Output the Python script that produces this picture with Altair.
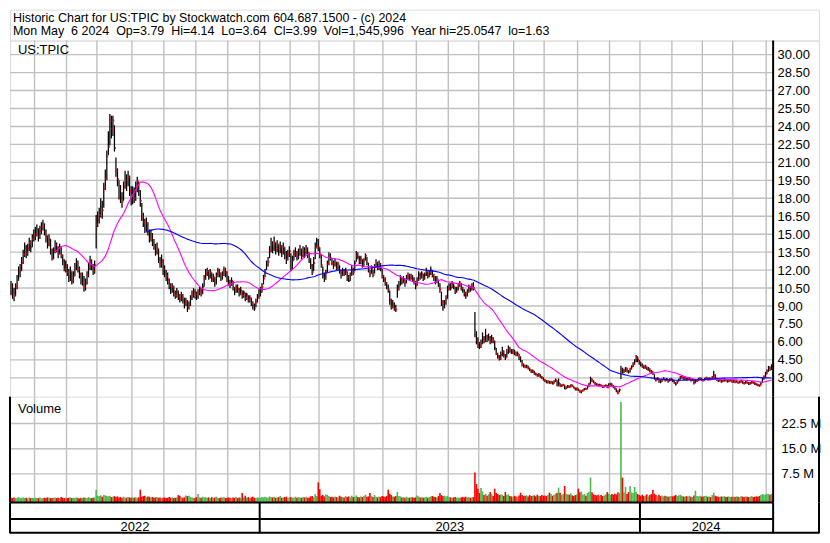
import altair as alt
import numpy as np
import pandas as pd

# ---------------------------------------------------------------- data
FIRST_DAY = "2022-05-09"
LAST_DAY = "2024-05-06"
market_holidays = [
    "2022-05-30", "2022-06-20", "2022-07-04", "2022-09-05", "2022-11-24", "2022-12-26",
    "2023-01-02", "2023-01-16", "2023-02-20", "2023-04-07", "2023-05-29", "2023-06-19",
    "2023-07-04", "2023-09-04", "2023-11-23", "2023-12-25",
    "2024-01-01", "2024-01-15", "2024-02-19", "2024-03-29",
]

close = [
    10.6, 10.2, 9.9, 10.5, 11.2, 11.8, 12.0, 12.6, 13.3, 13.9, 13.4, 13.8, 14.3, 13.9, 14.6, 14.9,
    15.0, 15.4, 14.8, 15.3, 15.6, 15.9, 15.2, 14.8, 14.2, 14.6, 13.5, 13.0, 13.6, 14.1, 13.8, 13.4, 13.9, 13.2, 12.8, 12.1, 12.4,
    11.8, 11.4, 11.9, 11.1, 11.5, 12.2, 12.6, 12.1, 11.6, 11.0, 11.4, 10.6, 10.9, 11.6, 12.2, 12.7, 12.3, 11.9, 12.4, 15.8,
    16.2, 16.6, 17.3, 17.0, 18.8, 19.6, 21.5, 22.3, 24.5, 23.8, 24.5, 22.2, 20.3, 19.6, 18.6, 18.3, 17.7, 18.9, 19.5, 19.3, 19.8, 18.6, 18.2,
    18.6, 18.0, 18.9, 19.4, 18.6, 17.8, 16.4, 16.0, 15.5, 15.9, 15.2, 14.6, 15.0, 14.3, 14.0, 13.5, 13.8, 12.9, 12.5, 12.8, 12.1,
    11.8, 11.5, 11.2, 10.7, 10.4, 10.6, 10.1, 9.9, 10.2, 9.8, 9.6, 9.9, 9.5, 9.2, 9.4, 8.9, 9.1, 9.6, 9.9, 10.2, 10.0,
    9.8, 10.1, 10.3, 10.0, 10.6, 11.3, 11.7, 11.9, 11.5, 11.8, 11.2, 11.4, 10.9, 11.5, 11.9, 11.7, 11.4, 11.6, 12.0, 11.8, 11.3,
    11.0, 10.8, 11.1, 10.5, 10.2, 10.6, 10.4, 10.0, 10.3, 9.9, 10.1, 9.7, 9.9, 9.5, 9.7, 9.2, 9.0, 8.8, 9.3, 9.7, 10.0,
    10.2, 10.6, 11.3, 11.8, 12.4, 12.7, 13.6, 14.2, 13.8, 14.3, 13.7, 14.1, 13.6, 14.0, 13.5, 13.9, 13.4, 12.9, 13.3, 13.6,
    12.2, 12.8, 13.3, 13.5, 13.1, 13.4, 13.7, 13.2, 13.6, 13.3, 13.8, 13.4, 12.9, 12.4, 11.8, 12.6, 13.9, 14.5, 13.9,
    13.3, 12.4, 11.5, 11.3, 11.8, 12.5, 13.2, 13.0, 12.6, 12.4, 12.7, 12.2, 12.5, 11.9, 11.6, 12.0, 11.7, 11.9, 11.4, 11.1, 11.6, 12.1, 11.8,
    12.6, 13.4, 13.1, 12.7, 12.9, 12.4, 12.8, 13.2, 12.6, 12.0, 11.7, 12.1, 11.6, 12.3, 12.6, 12.2, 12.5, 12.1, 11.5,
    11.2, 10.9, 10.6, 10.4, 9.5, 8.9, 9.2, 8.8, 8.7, 10.4, 10.7, 11.3, 11.0, 11.2, 10.9, 11.4, 11.6, 11.3, 11.5, 11.2, 11.0, 10.7,
    11.2, 11.6, 11.4, 11.7, 11.3, 11.6, 11.9, 11.5, 11.8, 12.0, 11.6, 11.4, 11.0, 11.3, 10.8, 10.4, 9.3, 8.9, 9.2, 9.6, 10.4,
    10.7, 10.5, 10.9, 10.6, 10.2, 10.4, 10.7, 10.9, 10.5, 10.3, 10.1, 9.9, 10.2, 10.6, 10.4, 10.7, 10.5, 6.6, 6.2, 5.9,
    5.6, 5.9, 6.3, 6.1, 6.5, 6.2, 6.4, 6.0, 6.3, 6.1, 5.5, 5.0, 4.8, 4.6, 4.9, 5.2, 4.9, 4.7, 5.1, 5.5, 5.3, 5.1, 5.2,
    5.1, 4.9, 5.0, 4.7, 4.4, 4.1, 4.0, 3.9, 3.95, 3.8, 3.65, 3.5, 3.55, 3.35, 3.3, 3.2, 3.25, 3.1, 3.0, 2.85,
    2.75, 2.6, 2.7, 2.55, 2.65, 2.5, 2.7, 2.8, 2.35, 2.55, 2.3, 2.35, 2.4, 2.1, 2.2, 2.3, 2.25, 2.4, 2.3, 2.15, 2.05, 2.1,
    1.95, 1.85, 1.9, 2.0, 2.1, 2.05, 2.3, 2.5, 2.9, 2.75, 2.6, 2.5, 2.45, 2.35, 2.4, 2.3, 2.25, 2.3, 2.35, 2.2, 2.45,
    2.5, 2.35, 2.2, 2.05, 1.9, 1.75, 2.0, 3.7, 3.45, 3.6, 3.8, 3.55, 3.5, 3.75, 3.95, 4.2, 4.4, 4.7, 4.5, 4.3,
    4.1, 4.0, 3.85, 3.95, 3.7, 3.75, 3.6, 3.5, 3.35, 2.95, 2.85, 2.95, 2.75, 2.7, 2.85, 2.95, 2.8, 2.9, 2.75, 2.85, 2.9,
    2.75, 2.6, 2.5, 2.7, 2.85, 3.05, 3.1, 2.95, 3.0, 2.85, 2.9, 2.95, 2.8, 2.85, 2.6, 2.75, 2.8, 2.9, 2.95, 2.85,
    2.8, 2.9, 3.0, 2.85, 2.95, 2.9, 3.05, 3.2, 2.95, 2.85, 2.75, 2.8, 2.7, 2.75, 2.85, 2.8, 2.7, 2.75, 2.8, 2.7,
    2.75, 2.65, 2.7, 2.6, 2.65, 2.75, 2.6, 2.55, 2.65, 2.6, 2.5, 2.55, 2.65, 2.6, 2.5, 2.45, 2.4, 2.35, 2.6, 2.9, 3.1, 3.35,
    3.55, 3.85, 3.75, 3.99,
]

high = [
    11.1, 10.9, 10.5, 10.9, 11.6, 12.3, 12.5, 13.1, 13.7, 14.3, 14.1, 14.2, 14.7, 14.5, 15.0, 15.4,
    15.6, 15.8, 15.5, 15.7, 16.0, 16.2, 15.9, 15.4, 14.9, 15.0, 14.6, 13.8, 13.9, 14.5, 14.3, 14.0, 14.2, 13.9, 13.3, 12.9, 12.8,
    12.5, 12.1, 12.3, 11.9, 11.9, 12.6, 13.0, 12.8, 12.3, 11.8, 11.8, 11.5, 11.3, 11.9, 12.6, 13.2, 12.9, 12.5, 12.8, 16.6,
    16.9, 17.2, 18.0, 17.8, 19.3, 20.4, 22.0, 23.6, 25.05, 24.9, 24.9, 24.1, 21.4, 20.5, 19.5, 19.1, 18.5, 19.4, 20.3, 20.0, 20.3, 19.9, 19.0,
    19.0, 18.9, 19.4, 19.8, 19.4, 18.7, 17.6, 16.8, 16.3, 16.4, 16.0, 15.4, 15.4, 15.1, 14.6, 14.2, 14.3, 13.8, 13.1, 13.3, 12.9,
    12.4, 12.0, 11.8, 11.3, 10.9, 10.9, 10.7, 10.3, 10.5, 10.3, 10.0, 10.2, 10.0, 9.7, 9.7, 9.5, 9.4, 9.9, 10.3, 10.5, 10.4,
    10.2, 10.4, 10.6, 10.5, 10.9, 11.6, 12.1, 12.2, 12.0, 12.1, 11.8, 11.7, 11.4, 11.8, 12.2, 12.1, 11.8, 11.9, 12.3, 12.2, 11.9,
    11.5, 11.2, 11.4, 11.1, 10.6, 10.8, 10.8, 10.5, 10.6, 10.3, 10.3, 10.1, 10.1, 9.9, 9.9, 9.7, 9.4, 9.2, 9.6, 10.0, 10.4,
    10.6, 10.9, 11.6, 12.1, 12.8, 13.1, 14.0, 14.7, 14.4, 14.8, 14.3, 14.5, 14.2, 14.4, 14.1, 14.3, 13.9, 13.6, 13.7, 14.0,
    13.4, 13.2, 13.7, 13.9, 13.6, 13.8, 14.1, 13.8, 14.0, 13.9, 14.1, 13.9, 13.5, 13.0, 12.5, 13.1, 14.3, 14.7, 14.6,
    13.9, 13.3, 12.3, 11.8, 12.0, 12.8, 13.5, 13.4, 13.0, 12.8, 13.0, 12.7, 12.7, 12.4, 12.0, 12.2, 12.1, 12.2, 11.9, 11.6, 11.8, 12.4, 12.2,
    12.8, 13.6, 13.5, 13.2, 13.2, 12.9, 13.0, 13.4, 13.1, 12.6, 12.0, 12.4, 12.0, 12.5, 12.9, 12.7, 12.8, 12.6, 12.1,
    11.6, 11.4, 11.0, 10.8, 10.3, 9.6, 9.5, 9.3, 9.1, 10.8, 11.1, 11.6, 11.4, 11.5, 11.3, 11.6, 11.8, 11.7, 11.7, 11.6, 11.4, 11.1,
    11.4, 11.9, 11.8, 11.9, 11.7, 11.8, 12.2, 11.9, 12.0, 12.3, 12.0, 11.7, 11.5, 11.5, 11.2, 10.9, 10.2, 9.5, 9.5, 9.9, 10.7,
    10.9, 10.9, 11.1, 10.9, 10.6, 10.6, 10.9, 11.1, 10.9, 10.6, 10.4, 10.2, 10.4, 10.8, 10.7, 10.9, 11.0, 8.5, 6.9, 6.4,
    6.0, 6.2, 6.8, 6.5, 7.1, 6.6, 6.7, 6.5, 6.6, 6.4, 6.1, 5.5, 5.1, 4.9, 5.2, 5.6, 5.3, 5.0, 5.4, 5.7, 5.6, 5.4, 5.4,
    5.35, 5.2, 5.2, 5.0, 4.8, 4.5, 4.2, 4.1, 4.1, 4.0, 3.85, 3.7, 3.7, 3.6, 3.45, 3.35, 3.4, 3.3, 3.15, 3.05,
    2.9, 2.8, 2.8, 2.75, 2.75, 2.7, 2.8, 2.95, 2.8, 2.95, 2.55, 2.45, 2.5, 2.4, 2.3, 2.4, 2.35, 2.45, 2.45, 2.3, 2.2, 2.2,
    2.1, 2.0, 1.95, 2.05, 2.15, 2.15, 2.35, 2.6, 3.1, 2.95, 2.8, 2.65, 2.55, 2.5, 2.5, 2.45, 2.35, 2.4, 2.45, 2.4, 2.55,
    2.6, 2.55, 2.4, 2.25, 2.1, 1.95, 2.1, 4.0, 3.85, 3.75, 3.9, 3.85, 3.65, 3.85, 4.05, 4.3, 4.55, 4.9, 4.8, 4.5,
    4.35, 4.2, 4.05, 4.1, 3.95, 3.9, 3.8, 3.65, 3.55, 3.3, 3.0, 3.05, 2.95, 2.85, 2.95, 3.05, 2.95, 3.0, 2.9, 2.95, 3.0,
    2.9, 2.8, 2.65, 2.75, 2.95, 3.15, 3.2, 3.1, 3.1, 3.0, 3.0, 3.05, 2.95, 2.95, 2.85, 2.85, 2.9, 3.0, 3.05, 3.0,
    2.9, 3.0, 3.1, 3.0, 3.05, 3.0, 3.15, 3.6, 3.3, 3.0, 2.9, 2.9, 2.85, 2.85, 2.95, 2.9, 2.85, 2.85, 2.9, 2.85,
    2.85, 2.8, 2.8, 2.7, 2.75, 2.85, 2.75, 2.65, 2.75, 2.7, 2.65, 2.65, 2.75, 2.7, 2.65, 2.55, 2.5, 2.45, 2.65, 3.0, 3.2, 3.5,
    3.7, 4.0, 3.95, 4.14,
]

low = [
    9.9, 9.6, 9.4, 9.8, 10.4, 11.1, 11.4, 11.9, 12.5, 13.1, 13.0, 13.2, 13.6, 13.5, 13.9, 14.4,
    14.5, 14.8, 14.4, 14.6, 15.0, 15.3, 14.9, 14.3, 13.8, 14.0, 13.3, 12.8, 12.9, 13.4, 13.5, 13.0, 13.3, 13.0, 12.4, 11.9, 11.8,
    11.5, 11.0, 11.1, 10.8, 10.9, 11.5, 12.0, 11.8, 11.3, 10.8, 10.7, 10.2, 10.3, 10.8, 11.4, 12.0, 12.0, 11.6, 11.7, 13.8,
    15.6, 15.9, 16.4, 16.3, 17.2, 18.7, 19.5, 21.6, 22.4, 23.0, 23.2, 21.9, 19.8, 19.0, 17.9, 17.6, 17.2, 17.8, 18.8, 18.6, 19.0, 18.2, 17.4,
    17.5, 17.6, 17.8, 18.5, 18.2, 17.3, 16.1, 15.6, 15.1, 15.2, 14.9, 14.3, 14.4, 14.0, 13.7, 13.2, 13.3, 12.6, 12.2, 12.2, 11.6,
    11.4, 11.1, 10.8, 10.4, 10.0, 10.1, 9.8, 9.6, 9.7, 9.5, 9.3, 9.4, 9.2, 8.8, 9.0, 8.5, 8.7, 9.0, 9.5, 9.7, 9.6,
    9.5, 9.6, 9.9, 9.8, 10.0, 10.6, 11.2, 11.5, 11.2, 11.3, 11.0, 11.0, 10.6, 10.8, 11.4, 11.4, 11.1, 11.2, 11.5, 11.4, 11.0,
    10.7, 10.5, 10.7, 10.3, 9.9, 10.1, 10.1, 9.8, 9.9, 9.6, 9.7, 9.4, 9.5, 9.3, 9.3, 9.0, 8.7, 8.6, 8.9, 9.3, 9.6,
    9.8, 10.1, 10.8, 11.4, 12.0, 12.3, 13.0, 13.5, 13.4, 13.6, 13.3, 13.5, 13.2, 13.4, 13.1, 13.3, 12.9, 12.5, 12.8, 13.1,
    11.9, 12.0, 12.8, 13.1, 12.8, 12.9, 13.2, 12.9, 13.1, 13.0, 13.3, 13.0, 12.6, 12.1, 11.6, 11.9, 12.9, 13.8, 13.6,
    13.0, 12.2, 11.3, 11.0, 11.2, 11.8, 12.4, 12.8, 12.4, 12.1, 12.3, 12.0, 12.0, 11.7, 11.3, 11.5, 11.5, 11.6, 11.1, 11.0, 11.1, 11.5, 11.6,
    11.9, 12.7, 12.9, 12.5, 12.5, 12.2, 12.3, 12.8, 12.4, 11.8, 11.4, 11.7, 11.4, 11.7, 12.2, 12.0, 12.0, 11.9, 11.3,
    11.0, 10.7, 10.4, 10.1, 9.1, 8.7, 8.8, 8.6, 8.5, 9.7, 10.3, 10.7, 10.8, 10.9, 10.6, 10.9, 11.2, 11.1, 11.2, 11.0, 10.8, 10.4,
    10.7, 11.1, 11.2, 11.3, 11.1, 11.2, 11.5, 11.3, 11.4, 11.6, 11.4, 11.1, 10.8, 10.9, 10.6, 10.1, 9.0, 8.6, 8.8, 9.1, 9.6,
    10.3, 10.3, 10.5, 10.4, 10.0, 10.1, 10.3, 10.6, 10.3, 10.1, 9.8, 9.6, 9.8, 10.1, 10.2, 10.3, 10.3, 6.4, 5.8, 5.5,
    5.4, 5.5, 5.8, 5.9, 6.0, 6.0, 6.1, 5.8, 5.9, 5.9, 5.3, 4.9, 4.6, 4.45, 4.5, 4.8, 4.7, 4.5, 4.7, 5.0, 5.1, 5.0, 5.0,
    4.9, 4.8, 4.8, 4.5, 4.3, 3.95, 3.85, 3.8, 3.8, 3.7, 3.55, 3.4, 3.4, 3.25, 3.2, 3.1, 3.1, 3.0, 2.9, 2.75,
    2.65, 2.55, 2.55, 2.5, 2.5, 2.45, 2.5, 2.65, 2.3, 2.3, 2.25, 2.25, 2.3, 2.05, 2.05, 2.15, 2.15, 2.2, 2.25, 2.1, 1.95, 1.95,
    1.9, 1.75, 1.7, 1.85, 1.95, 2.0, 2.05, 2.25, 2.45, 2.65, 2.55, 2.4, 2.35, 2.3, 2.3, 2.25, 2.15, 2.2, 2.25, 2.15, 2.2,
    2.35, 2.3, 2.15, 2.0, 1.8, 1.63, 1.8, 2.9, 3.35, 3.4, 3.5, 3.45, 3.35, 3.45, 3.7, 3.9, 4.1, 4.3, 4.3, 4.1,
    3.95, 3.85, 3.75, 3.75, 3.65, 3.6, 3.45, 3.4, 3.25, 2.85, 2.7, 2.8, 2.6, 2.55, 2.65, 2.8, 2.7, 2.75, 2.6, 2.7, 2.75,
    2.65, 2.5, 2.35, 2.5, 2.7, 2.85, 2.95, 2.85, 2.85, 2.75, 2.8, 2.85, 2.7, 2.75, 2.45, 2.55, 2.65, 2.75, 2.8, 2.75,
    2.7, 2.75, 2.85, 2.8, 2.8, 2.8, 2.85, 3.0, 2.9, 2.75, 2.65, 2.7, 2.6, 2.65, 2.7, 2.7, 2.6, 2.65, 2.7, 2.6,
    2.6, 2.55, 2.6, 2.5, 2.55, 2.6, 2.5, 2.45, 2.5, 2.5, 2.4, 2.45, 2.5, 2.5, 2.4, 2.35, 2.3, 2.25, 2.35, 2.6, 2.85, 3.05,
    3.3, 3.5, 3.6, 3.64,
]

volume_m = [
    0.4, 0.3, 0.5, 0.3, 0.4, 0.6, 0.3, 0.4, 0.5, 0.3, 0.4, 0.2, 0.5, 0.3, 0.4, 0.3,
    0.4, 0.3, 0.3, 0.5, 0.2, 0.3, 0.4, 0.3, 0.5, 0.4, 0.3, 0.3, 0.4, 0.5, 0.3, 0.4, 0.3, 0.6, 0.4, 0.3, 0.4,
    0.3, 0.4, 0.5, 0.3, 0.4, 0.3, 0.5, 0.3, 0.2, 0.4, 0.3, 0.5, 0.4, 0.3, 0.6, 0.4, 0.3, 0.4, 0.5, 2.8,
    1.0, 0.9, 1.1, 0.7, 1.2, 1.1, 0.9, 0.8, 1.0, 0.6, 0.7, 0.9, 0.6, 0.8, 0.5, 0.6, 0.4, 0.7, 0.5, 0.4, 0.6, 0.5, 0.4,
    0.5, 0.4, 0.6, 0.4, 0.5, 2.8, 0.7, 0.9, 1.0, 0.6, 0.8, 0.7, 0.5, 0.6, 0.4, 0.5, 0.6, 0.4, 0.5, 0.3, 0.4,
    0.5, 0.3, 0.4, 0.6, 0.4, 0.5, 0.3, 0.4, 0.5, 1.2, 1.0, 0.6, 0.4, 0.5, 1.1, 0.9, 1.0, 0.6, 0.5, 0.4, 0.3,
    0.6, 1.5, 0.5, 0.4, 0.7, 0.5, 0.6, 0.4, 0.5, 0.3, 0.6, 0.4, 0.5, 0.7, 0.4, 0.3, 0.5, 0.4, 0.6, 0.3, 0.4,
    0.5, 0.4, 0.3, 0.5, 0.4, 0.6, 0.3, 0.5, 0.4, 1.8, 0.5, 1.0, 0.4, 0.6, 0.3, 0.5, 0.7, 0.4, 0.3, 0.5, 0.4,
    0.4, 0.6, 0.5, 0.7, 0.5, 0.4, 0.8, 0.6, 0.5, 0.7, 0.4, 0.5, 0.6, 0.9, 0.4, 0.5, 0.6, 0.7, 0.4, 0.5,
    0.6, 0.4, 0.5, 0.7, 0.4, 0.6, 0.5, 0.4, 0.6, 0.5, 0.7, 0.4, 0.5, 0.8, 0.9, 0.6, 1.5, 0.9, 5.0,
    2.9, 1.0, 1.2, 0.8, 1.4, 1.3, 0.9, 0.6, 0.7, 0.5, 0.8, 0.6, 0.5, 1.0, 0.7, 0.6, 0.5, 0.9, 0.6, 0.8, 0.5, 1.0, 0.6,
    0.7, 1.1, 0.6, 0.5, 0.8, 0.6, 0.9, 1.3, 0.7, 0.8, 1.8, 0.9, 0.6, 1.2, 0.7, 0.5, 0.8, 0.6, 0.9,
    0.8, 0.6, 0.9, 2.8, 1.6, 1.2, 0.8, 0.7, 0.9, 2.1, 0.9, 0.8, 0.5, 0.6, 0.4, 0.7, 0.5, 0.4, 0.6, 0.5, 0.4, 0.5,
    1.1, 0.8, 0.5, 0.6, 0.4, 0.5, 0.7, 0.4, 0.6, 0.8, 0.9, 0.7, 0.6, 0.5, 0.9, 1.8, 1.2, 0.9, 1.0, 0.8, 1.0,
    0.6, 0.5, 0.4, 0.5, 0.6, 0.4, 0.5, 0.4, 0.5, 0.6, 0.5, 0.7, 0.5, 0.6, 0.4, 0.5, 0.6, 7.9, 4.5, 3.1,
    1.8, 3.3, 2.3, 1.2, 1.6, 1.0, 1.4, 2.1, 1.5, 0.9, 3.1, 1.8, 1.5, 1.2, 1.4, 1.3, 0.9, 2.1, 1.2, 1.4, 0.9, 0.8, 0.7,
    1.0, 0.8, 0.7, 1.1, 1.9, 1.2, 0.9, 1.0, 1.1, 0.8, 1.2, 0.9, 1.0, 1.1, 0.8, 1.3, 1.0, 0.9, 1.2, 1.0,
    1.1, 0.9, 1.2, 1.9, 1.5, 1.0, 1.3, 1.6, 1.8, 3.4, 1.9, 1.2, 1.5, 3.9, 1.6, 1.4, 1.3, 1.7, 1.1, 0.9, 1.2, 1.4,
    3.1, 2.0, 2.2, 1.3, 1.5, 1.0, 1.8, 2.2, 6.4, 2.0, 1.4, 1.2, 1.1, 1.3, 1.0, 1.2, 0.9, 1.1, 1.4, 2.1, 1.6,
    1.2, 1.5, 1.3, 1.6, 1.4, 2.0, 1.8, 28.9, 6.4, 2.0, 3.6, 1.5, 2.1, 3.9, 2.0, 1.8, 3.6, 2.2, 1.5, 1.2,
    1.0, 1.3, 0.9, 1.1, 1.4, 0.8, 1.2, 1.5, 2.7, 1.6, 1.2, 1.0, 1.3, 0.9, 1.1, 0.8, 1.0, 0.9, 0.7, 0.8, 0.9,
    0.8, 1.0, 1.2, 0.9, 1.1, 1.3, 1.0, 0.8, 0.7, 0.9, 0.8, 1.0, 0.7, 0.6, 1.1, 2.5, 0.9, 0.8, 1.0, 0.7,
    0.8, 0.9, 1.0, 0.7, 0.8, 0.6, 1.2, 1.9, 1.0, 0.8, 0.7, 0.6, 0.8, 0.7, 0.9, 0.6, 0.7, 0.8, 0.6, 0.7,
    0.7, 0.6, 0.8, 0.7, 0.6, 0.9, 0.7, 0.6, 0.8, 0.7, 0.6, 0.7, 0.9, 0.6, 0.7, 0.8, 0.7, 0.9, 1.2, 1.5, 1.3, 1.4,
    1.6, 1.5, 1.3, 1.55,
]

price_ticks = [3.0, 4.5, 6.0, 7.5, 9.0, 10.5, 12.0, 13.5, 15.0, 16.5, 18.0, 19.5,
               21.0, 22.5, 24.0, 25.5, 27.0, 28.5, 30.0]
volume_ticks = [7.5, 15.0, 22.5]
header_line1 = "Historic Chart for US:TPIC by Stockwatch.com 604.687.1500 - (c) 2024"
header_line2 = ("Mon May  6 2024  Op=3.79  Hi=4.14  Lo=3.64  Cl=3.99  "
                "Vol=1,545,996  Year hi=25.0547  lo=1.63")
symbol_label = "US:TPIC"
volume_label = "Volume"
FAST_MA, SLOW_MA = 30, 90

# ---------------------------------------------------------------- styling / layout
FONT = "Liberation Sans"
FS = 13
HEAD_FS = 12.5
GRID = "#c0c0c0"
UP_COL = "#4cb84c"
DOWN_COL = "#ff0000"
W_ALL = 811
SEP_X = 765
X_RANGE = [1.0, 763.4]
H_HEAD, H_PRICE, H_VOL, H_YEAR = 31, 357, 106, 31

# ---------------------------------------------------------------- frames
days = pd.bdate_range(FIRST_DAY, LAST_DAY)
days = days[~days.isin(pd.to_datetime(market_holidays))]
n = len(days)
assert n == len(close) == len(high) == len(low) == len(volume_m), (
    n, len(close), len(high), len(low), len(volume_m))

df = pd.DataFrame({"i": np.arange(n), "high": high, "low": low,
                   "close": close, "vol": volume_m})
df["tick_a"] = df["i"] + 0.2
df["tick_b"] = df["i"] + 0.9
df["dir"] = np.where(df["close"].diff() > 0, "up", "down")
ma_fast = pd.DataFrame({"i": df["i"], "ma": df["close"].rolling(FAST_MA).mean()}).dropna()
ma_slow = pd.DataFrame({"i": df["i"], "ma": df["close"].rolling(SLOW_MA).mean()}).dropna()

ym = np.asarray(days.year * 100 + days.month)
yr = np.asarray(days.year)
month_starts = [k for k in range(1, n) if ym[k] != ym[k - 1]]
year_starts = [k for k in range(1, n) if yr[k] != yr[k - 1]]
grid_df = pd.DataFrame({"gx": np.array(month_starts) - 0.5})
ysep_df = pd.DataFrame({"bx": np.array(year_starts) - 0.5})
edges = [-0.5] + [k - 0.5 for k in year_starts] + [n - 0.5]
year_names = [str(y) for y in sorted(set(yr.tolist()))]
ylab_df = pd.DataFrame({"year": year_names,
                        "cx": [(edges[k] + edges[k + 1]) / 2 for k in range(len(year_names))]})
ptick_df = pd.DataFrame({"p": price_ticks})
vtick_df = pd.DataFrame({"v": volume_ticks})
one = pd.DataFrame({"k": [0]})

xs = alt.Scale(domain=[0, n - 1], range=X_RANGE, nice=False, zero=False)
ysp = alt.Scale(domain=[1.425, 31.175], nice=False, zero=False)
ysv = alt.Scale(domain=[-1.0, 30.5], nice=False, zero=False)


def X(field):
    return alt.X(field, type="quantitative", scale=xs, axis=None)


price_axis = alt.Axis(orient="right", offset=SEP_X - W_ALL, values=price_ticks, format=".2f",
                      title=None, grid=False, ticks=False, domain=False, labelPadding=4,
                      labelFont=FONT, labelFontSize=FS, labelColor="black", labelAlign="left",
                      labelBaseline="middle", labelFlush=False, labelOverlap=False)
vol_axis = alt.Axis(orient="right", offset=SEP_X - W_ALL, values=volume_ticks,
                    labelExpr="format(datum.value, '.1f') + ' M'",
                    title=None, grid=False, ticks=False, domain=False, labelPadding=8,
                    labelFont=FONT, labelFontSize=FS, labelColor="black", labelAlign="left",
                    labelBaseline="middle", labelFlush=False, labelOverlap=False)


def vline(xpix, h, width=2):
    return alt.Chart(one).mark_rule(color="black", strokeWidth=width).encode(
        x=alt.value(xpix), y=alt.value(0), y2=alt.value(h))


def hline(ypix, x0, x1, width=2):
    return alt.Chart(one).mark_rule(color="black", strokeWidth=width).encode(
        y=alt.value(ypix), x=alt.value(x0), x2=alt.value(x1))


def label(text, xpix, ypix, size=FS, align="left"):
    return alt.Chart(one).mark_text(align=align, baseline="middle", font=FONT, fontSize=size,
                                    color="black").encode(
        x=alt.value(xpix), y=alt.value(ypix), text=alt.value(text))


# ---------------------------------------------------------------- header
header = alt.layer(
    label(header_line1, 3, 8.0, HEAD_FS),
    label(header_line2.replace("  ", "\u00a0\u00a0"), 3, 21.8, HEAD_FS),
).properties(width=W_ALL, height=H_HEAD)

# ---------------------------------------------------------------- price panel
month_grid = alt.Chart(grid_df).mark_rule(color=GRID, strokeWidth=1.4).encode(x=X("gx"))
price_grid = alt.Chart(ptick_df).mark_rule(color=GRID, strokeWidth=1.4).encode(
    y=alt.Y("p:Q", scale=ysp, axis=price_axis), x=alt.value(0), x2=alt.value(SEP_X))
hl_bars = alt.Chart(df).mark_rule(color="black", strokeWidth=1.25).encode(
    x=X("i"), y=alt.Y("low:Q", scale=ysp, axis=price_axis), y2="high:Q")
close_ticks = alt.Chart(df).mark_rule(color=DOWN_COL, strokeWidth=2).encode(
    x=X("tick_a"), x2="tick_b:Q", y=alt.Y("close:Q", scale=ysp, axis=price_axis))
slow_line = alt.Chart(ma_slow).mark_line(color="#0000ff", strokeWidth=1.1).encode(
    x=X("i"), y=alt.Y("ma:Q", scale=ysp, axis=price_axis))
fast_line = alt.Chart(ma_fast).mark_line(color="#ff00ff", strokeWidth=1.1).encode(
    x=X("i"), y=alt.Y("ma:Q", scale=ysp, axis=price_axis))

price = alt.layer(
    month_grid, price_grid, hl_bars, close_ticks, fast_line, slow_line,
    vline(SEP_X, H_PRICE), label(symbol_label, 8, 9),
).properties(width=W_ALL, height=H_PRICE)

# ---------------------------------------------------------------- volume panel
vol_grid = alt.Chart(vtick_df).mark_rule(color=GRID, strokeWidth=1.4).encode(
    y=alt.Y("v:Q", scale=ysv, axis=vol_axis), x=alt.value(0), x2=alt.value(SEP_X))
vol_bars = alt.Chart(df).mark_rule(strokeWidth=1.6).encode(
    x=X("i"), y=alt.Y("vol:Q", scale=ysv, axis=vol_axis), y2=alt.value(H_VOL),
    color=alt.Color("dir:N", scale=alt.Scale(domain=["up", "down"], range=[UP_COL, DOWN_COL]),
                    legend=None))
volume = alt.layer(
    month_grid, vol_grid, vol_bars,
    vline(0, H_VOL), vline(SEP_X, H_VOL), vline(W_ALL, H_VOL), hline(H_VOL, 0, SEP_X),
    label(volume_label, 8, 12),
).properties(width=W_ALL, height=H_VOL, view=alt.ViewBackground(stroke="transparent"))

# ---------------------------------------------------------------- year axis panel
year_seps = alt.Chart(ysep_df).mark_rule(color="black", strokeWidth=2).encode(x=X("bx"))
year_text = alt.Chart(ylab_df).mark_text(align="center", baseline="middle", font=FONT,
                                         fontSize=FS, color="black").encode(
    x=X("cx"), y=alt.value(24.3), text="year:N")
years = alt.layer(
    year_seps, year_text,
    hline(16.5, 0, SEP_X), hline(H_YEAR - 0.5, 0, W_ALL),
    vline(0, H_YEAR), vline(SEP_X, H_YEAR), vline(W_ALL, H_YEAR),
).properties(width=W_ALL, height=H_YEAR, view=alt.ViewBackground(stroke="transparent"))

chart = alt.vconcat(header, price, volume, years, spacing=0, bounds="flush").properties(
    padding=0
).configure_view(stroke="black", strokeWidth=2).configure(font=FONT)

chart.save("out.html", embed_options={"renderer": "svg", "actions": False})
